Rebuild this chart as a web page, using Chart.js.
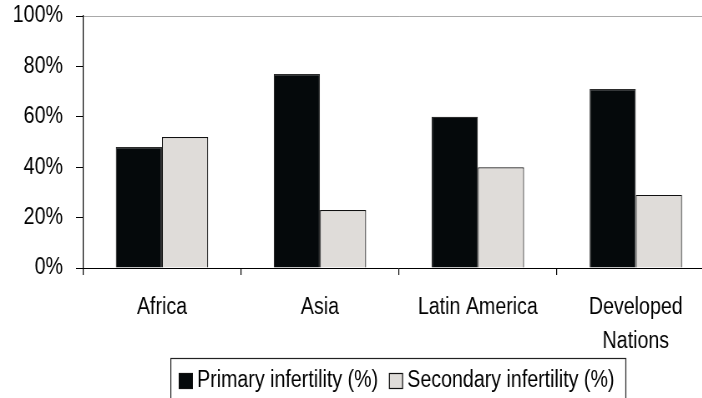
<!DOCTYPE html>
<html>
<head>
<meta charset="utf-8">
<script src="https://cdn.jsdelivr.net/npm/chart.js@4.4.1/dist/chart.umd.min.js"></script>
<style>
  html, body { margin: 0; padding: 0; background: #fff; overflow: hidden; width: 702px; height: 398px; }
  /* The drawing is laid out wide and condensed horizontally, giving the narrow type look */
  #chart { position: absolute; left: 0; top: 0; transform: scaleX(0.835); transform-origin: 0 0; }
</style>
</head>
<body>
<canvas id="chart" width="862" height="398"></canvas>
<script>
// Infertility share by region
const regions = ['Africa', 'Asia', 'Latin America', ['Developed', 'Nations']];
const primaryInfertility = [48, 77, 60, 71];
const secondaryInfertility = [52, 23, 40, 29];
const seriesNames = ['Primary infertility (%)', 'Secondary infertility (%)'];
const yTickValues = [0, 20, 40, 60, 80, 100];

const FONT = "'Liberation Sans', Arial, Helvetica, sans-serif";
const FONT_SIZE = 23.5;

// Legend drawn in a framed box under the axis labels
const boxedLegend = {
  id: 'boxedLegend',
  afterDraw(chart) {
    const ctx = chart.ctx;
    const ds = chart.data.datasets;
    ctx.save();
    ctx.font = FONT_SIZE + 'px ' + FONT;
    ctx.textBaseline = 'middle';
    ctx.textAlign = 'left';
    const left = 204, top = 358, midY = 381;
    let x = left + 10;
    ds.forEach(d => {
      ctx.fillStyle = d.backgroundColor;
      ctx.fillRect(x, midY - 8, 17, 16);
      ctx.strokeStyle = '#111';
      ctx.lineWidth = 1.2;
      ctx.strokeRect(x + 0.6, midY - 7.5, 15.8, 15);
      x += 22;
      ctx.fillStyle = '#000';
      ctx.fillText(d.label, x, midY);
      x += ctx.measureText(d.label).width + 13;
    });
    ctx.strokeStyle = '#222';
    ctx.lineWidth = 1.2;
    ctx.strokeRect(left + 0.6, top + 0.5, x - left, 60);
    ctx.restore();
  }
};

new Chart(document.getElementById('chart'), {
  type: 'bar',
  data: {
    labels: regions,
    datasets: [
      {
        label: seriesNames[0],
        data: primaryInfertility,
        backgroundColor: '#05090b',
        borderColor: '#2b2b2b',
        borderWidth: 1.2,
        barPercentage: 1,
        categoryPercentage: 0.585
      },
      {
        label: seriesNames[1],
        data: secondaryInfertility,
        backgroundColor: '#dfdcd9',
        borderColor: '#111',
        borderWidth: 1.2,
        barPercentage: 1,
        categoryPercentage: 0.585
      }
    ]
  },
  options: {
    responsive: false,
    animation: false,
    devicePixelRatio: 1,
    layout: { padding: { left: 0, top: 16, right: 6, bottom: 0 } },
    plugins: {
      legend: { display: false },
      tooltip: { enabled: false }
    },
    scales: {
      x: {
        afterFit(scale) { scale.height = 130; },
        grid: {
          offset: true,
          drawOnChartArea: false,
          color: '#000',
          tickColor: '#000',
          tickLength: 7,
          lineWidth: 1.2
        },
        border: { display: true, color: '#000', width: 1 },
        ticks: {
          color: '#000',
          padding: 16,
          maxRotation: 0,
          font: { family: FONT, size: FONT_SIZE, lineHeight: 1.42 }
        }
      },
      y: {
        min: 0,
        max: 100,
        afterFit(scale) {
          scale.width = 99.4;
          scale.paddingTop = 0;
          scale.paddingBottom = 0;
        },
        afterBuildTicks(scale) { scale.ticks = yTickValues.map(v => ({ value: v })); },
        grid: {
          // only the 100% line is shown across the plot
          color: c => (c.tick && c.tick.value === 100) ? '#a9a9a9' : 'rgba(255,255,255,0)',
          tickColor: '#000',
          tickLength: 8.4
        },
        border: { display: true, color: '#000', width: 1.2 },
        ticks: {
          color: '#000',
          padding: 15.6,
          font: { family: FONT, size: FONT_SIZE },
          callback: v => v + '%'
        }
      }
    }
  },
  plugins: [boxedLegend]
});
</script>
</body>
</html>
